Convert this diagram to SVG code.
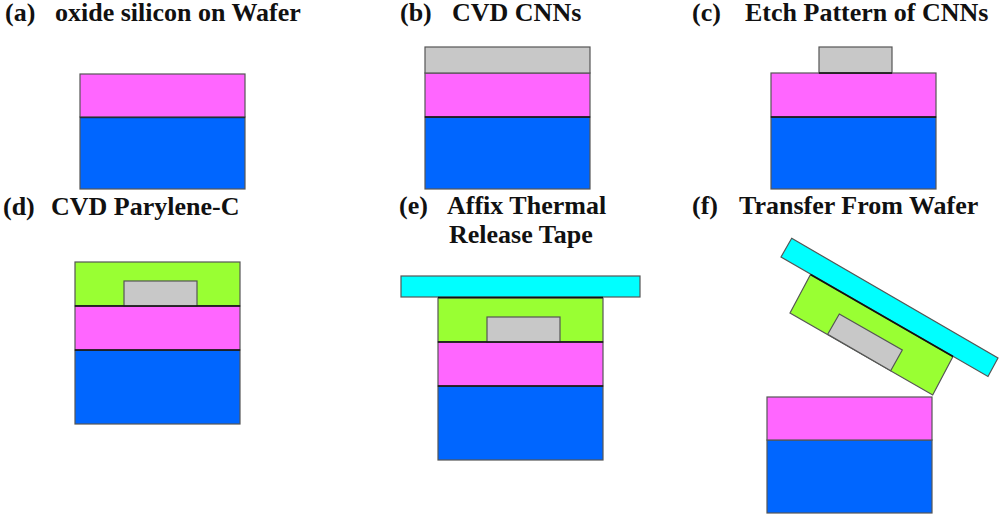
<svg xmlns="http://www.w3.org/2000/svg" width="1000" height="515" viewBox="0 0 1000 515">
<style>
text{font-family:"Liberation Serif","Times New Roman",serif;font-weight:bold;font-size:26px;fill:#111}
.s rect,.s polygon{stroke:#555;stroke-width:1.2}
.p{fill:#ff66ff}.b{fill:#0066ff}.g{fill:#c8c8c8}.l{fill:#99ff33}.c{fill:#00ffff}
.k{stroke:#111;stroke-width:1.6;fill:none}
</style>
<g id="a" class="s"><text x="5" y="21">(a)</text><text x="55" y="21">oxide silicon on Wafer</text>
<rect class="b" x="80" y="117" width="165" height="72"/><rect class="p" x="80" y="74" width="165" height="43"/><path class="k" stroke-opacity=".6" d="M80 117.500H245"/></g>
<g id="b" class="s"><text x="400" y="21">(b)</text><text x="452" y="21">CVD CNNs</text>
<rect class="b" x="425" y="117" width="165" height="72"/><rect class="p" x="425" y="73" width="165" height="44"/><rect class="g" x="425" y="47" width="165" height="26"/><path class="k" d="M425 117H590"/></g>
<g id="c" class="s"><text x="692" y="21">(c)</text><text x="745" y="21">Etch Pattern of CNNs</text>
<rect class="b" x="771" y="117" width="165" height="72"/><rect class="p" x="771" y="73" width="165" height="44"/><rect class="g" x="819" y="47" width="73" height="26"/><path class="k" d="M771 117H936M819 73H892"/></g>
<g id="d" class="s"><text x="3" y="215">(d)</text><text x="51" y="215">CVD Parylene-C</text>
<rect class="b" x="75" y="350" width="165" height="74"/><rect class="l" x="75" y="262" width="165" height="44"/><rect class="p" x="75" y="306" width="165" height="44"/><rect class="g" x="124" y="281" width="73" height="25"/><path class="k" d="M75 350H240M75 306H240"/></g>
<g id="e" class="s"><text x="399" y="214">(e)</text><text x="447" y="214">Affix Thermal</text><text x="449" y="243">Release Tape</text>
<rect class="c" x="401" y="276" width="239" height="21"/><rect class="b" x="438" y="386" width="165" height="74"/><rect class="l" x="438" y="298" width="165" height="44"/><rect class="p" x="438" y="342" width="165" height="44"/><rect class="g" x="487" y="317" width="73" height="25"/><path class="k" d="M438 386H603M438 342H603M438 297.500H603"/></g>
<g id="f" class="s"><text x="692" y="214">(f)</text><text x="739" y="214">Transfer From Wafer</text>
<polygon class="l" points="810.5,274.500 953,356.500 932.7,395 790,313"/><polygon class="g" points="839.3,314 902.3,350 890.7,370.700 827.7,334.300"/>
<polygon class="c" points="791.700,238.300 998,358 988,376.500 781,257"/><path class="k" d="M810.500 274.500L953 356.500"/>
<rect class="b" x="767" y="440" width="165" height="73"/><rect class="p" x="767" y="397" width="165" height="43"/></g>
<g id="connectors"/>
</svg>
